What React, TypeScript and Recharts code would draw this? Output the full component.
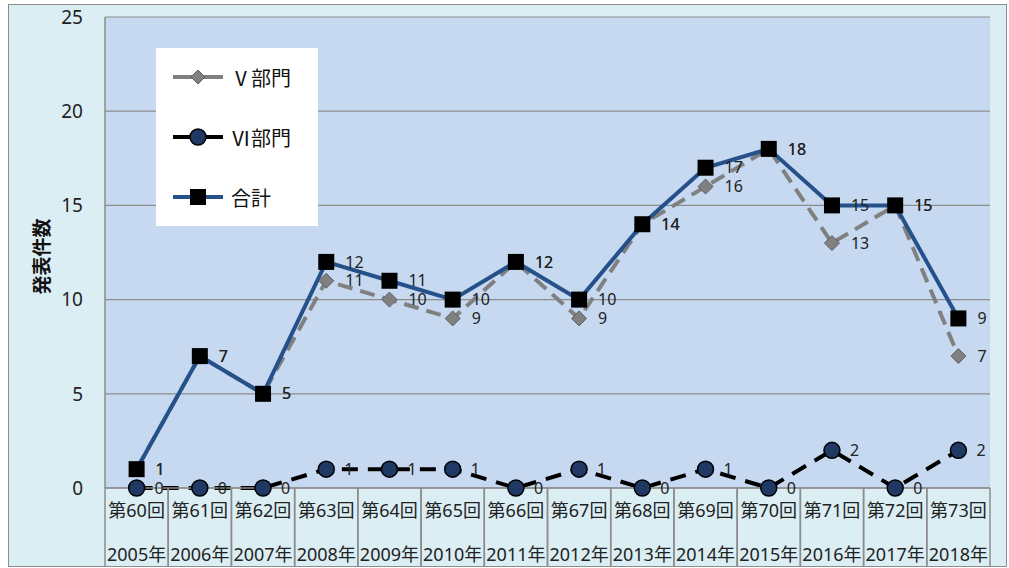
import React from 'react'
import { LineChart, Line, XAxis, YAxis, CartesianGrid, LabelList } from 'recharts'

// ── Data ──────────────────────────────────────────────
const kai = ['第60回', '第61回', '第62回', '第63回', '第64回', '第65回', '第66回', '第67回', '第68回', '第69回', '第70回', '第71回', '第72回', '第73回']
const years = ['2005年', '2006年', '2007年', '2008年', '2009年', '2010年', '2011年', '2012年', '2013年', '2014年', '2015年', '2016年', '2017年', '2018年']
const bumon5 = [1, 7, 5, 11, 10, 9, 12, 9, 14, 16, 18, 13, 15, 7]
const bumon6 = [0, 0, 0, 1, 1, 1, 0, 1, 0, 1, 0, 2, 0, 2]
const goukei = [1, 7, 5, 12, 11, 10, 12, 10, 14, 17, 18, 15, 15, 9]
const yTicks = [0, 5, 10, 15, 20, 25]

const data = kai.map((k, i) => ({ kai: k, year: years[i], v5: bumon5[i], v6: bumon6[i], total: goukei[i] }))

const FONT = "'Noto Sans', 'Noto Sans CJK JP', sans-serif"
const GRID = '#8c8c8c'
const BLUE = '#25508a'
const CELL_W = 885 / 14

// ── Markers ───────────────────────────────────────────
function Diamond({ cx, cy }: any) {
  if (cx == null || cy == null) return null
  const s = 7.5
  return <path d={`M${cx},${cy - s}L${cx + s},${cy}L${cx},${cy + s}L${cx - s},${cy}Z`} fill="#808080" stroke="#606060" strokeWidth={1} />
}
function Circle({ cx, cy }: any) {
  if (cx == null || cy == null) return null
  return <circle cx={cx} cy={cy} r={8} fill="#1f3864" stroke="#000" strokeWidth={1.5} />
}
function Square({ cx, cy }: any) {
  if (cx == null || cy == null) return null
  return <rect x={cx - 8} y={cy - 8} width={16} height={16} fill="#000" />
}

// ── X axis as table cells ─────────────────────────────
function CellTick({ x, y, payload, index }: any) {
  const l = x - CELL_W / 2
  return (
    <g>
      <line x1={l} y1={y} x2={l} y2={566} stroke={GRID} strokeWidth={1.5} />
      <line x1={l + CELL_W} y1={y} x2={l + CELL_W} y2={566} stroke={GRID} strokeWidth={1.5} />
      <text x={x} y={y + 29} textAnchor="middle" fontSize={18} fill="#222" fontFamily={FONT}>{payload.value}</text>
      <text x={x} y={y + 73} textAnchor="middle" fontSize={18} fill="#222" fontFamily={FONT}>{years[index]}</text>
    </g>
  )
}

// ── Legend ────────────────────────────────────────────
function LegendBox() {
  const items = [
    { name: 'Ⅴ部門', color: '#808080', mark: <path d="M25,-7L32,0L25,7L18,0Z" fill="#808080" stroke="#606060" /> },
    { name: 'Ⅵ部門', color: '#000', mark: <circle cx={25} cy={0} r={8} fill="#1f3864" stroke="#000" strokeWidth={1.5} /> },
    { name: '合計', color: BLUE, mark: <rect x={17} y={-8} width={16} height={16} fill="#000" /> },
  ]
  return (
    <div style={{ position: 'absolute', left: 156, top: 48, background: '#fff', width: 162, height: 178, fontFamily: FONT }}>
      {items.map((it, i) => (
        <div key={it.name} style={{ position: 'absolute', left: 17, top: 16 + i * 60, display: 'flex', alignItems: 'center', height: 26 }}>
          <svg width={54} height={20} style={{ overflow: 'visible' }}>
            <g transform="translate(0,10)">
              <line x1={0} y1={0} x2={50} y2={0} stroke={it.color} strokeWidth={4} />
              {it.mark}
            </g>
          </svg>
          <span style={{ fontSize: 20, color: '#111', marginLeft: 4 }}>{it.name}</span>
        </div>
      ))}
    </div>
  )
}

export default function App() {
  const labelStyle = { fontSize: 16, fill: '#222', fontFamily: FONT }
  return (
    <div style={{ position: 'absolute', left: 0, top: 0, width: 1009, height: 568, background: '#fff' }}>
      <div style={{
        position: 'absolute', left: 8, top: 4, width: 997, height: 561,
        background: '#dbeef4', border: `1px solid ${GRID}`,
      }} />
      <div style={{ position: 'absolute', left: 0, top: 0 }}>
        <LineChart width={1009} height={568} data={data} margin={{ top: 17, right: 19, left: 0, bottom: 0 }}>
          <CartesianGrid fill="#c6d9f1" stroke={GRID} vertical={false} strokeWidth={1.2} />
          <XAxis
            dataKey="kai"
            scale="band"
            axisLine={{ stroke: GRID, strokeWidth: 1.5 }}
            tickLine={false}
            tickSize={0}
            tickMargin={0}
            interval={0}
            tick={<CellTick />}
            height={80}
          />
          <YAxis
            domain={[0, 25]}
            ticks={yTicks}
            width={105}
            axisLine={{ stroke: GRID, strokeWidth: 1.5 }}
            tickLine={false}
            tickSize={0}
            tickMargin={22}
            tick={{ fontSize: 19, fill: '#222', fontFamily: FONT }}
            label={{
              value: '発表件数', angle: -90, position: 'center', dx: -10, dy: 4,
              style: { fontSize: 19, fontWeight: 700, fill: '#111', fontFamily: FONT },
            }}
          />
          <Line
            dataKey="v5"
            name="Ⅴ部門"
            stroke="#808080"
            strokeWidth={4}
            strokeDasharray="15 8"
            dot={<Diamond />}
            isAnimationActive={false}
          >
            <LabelList dataKey="v5" position="right" offset={19} style={labelStyle} />
          </Line>
          <Line
            dataKey="v6"
            name="Ⅵ部門"
            stroke="#000"
            strokeWidth={4}
            strokeDasharray="16 10"
            dot={<Circle />}
            isAnimationActive={false}
          >
            <LabelList dataKey="v6" position="right" offset={18} style={labelStyle} />
          </Line>
          <Line
            dataKey="total"
            name="合計"
            stroke={BLUE}
            strokeWidth={4}
            dot={<Square />}
            isAnimationActive={false}
          >
            <LabelList dataKey="total" position="right" offset={19} style={labelStyle} />
          </Line>
        </LineChart>
      </div>
      <LegendBox />
    </div>
  )
}
